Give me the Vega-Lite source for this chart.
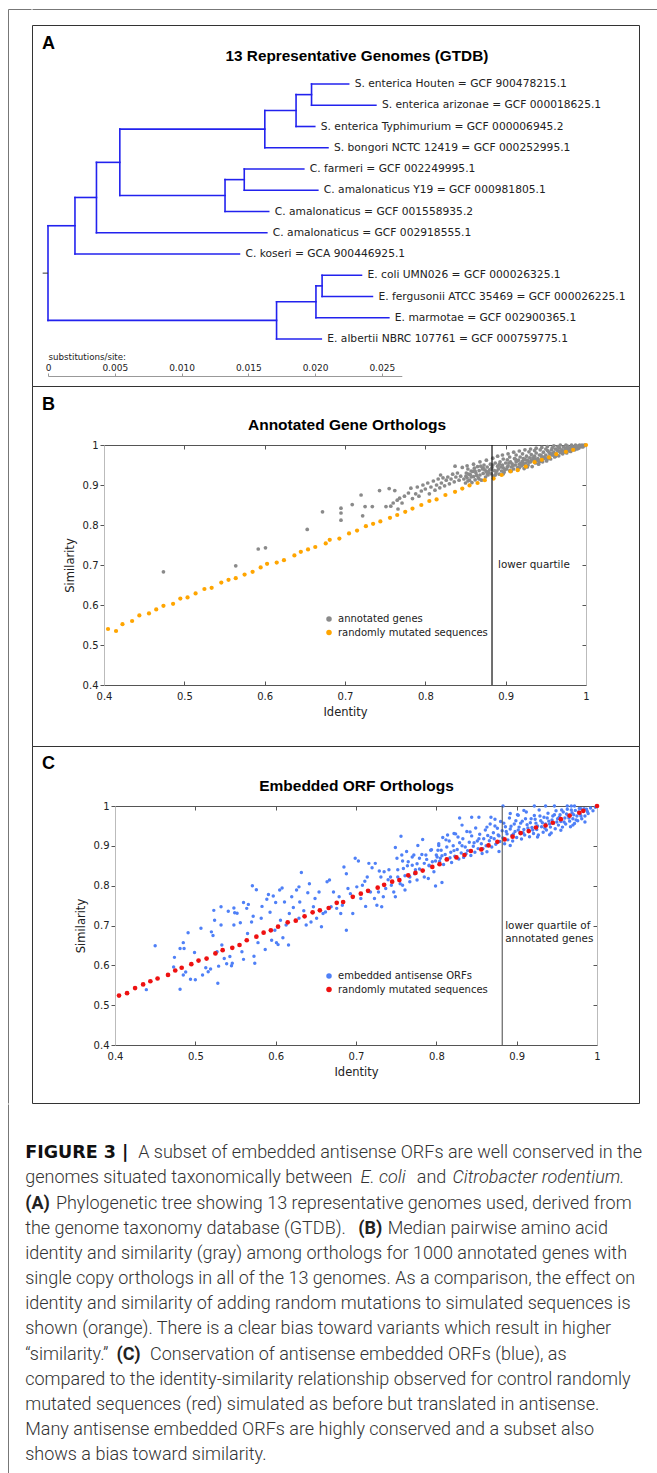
{
"$schema": "https://vega.github.io/schema/vega-lite/v6.json",
"padding": {"left": 8, "top": 9, "right": 0, "bottom": 0},
"background": "white",
"spacing": 0,
"resolve": {"scale": {"color": "independent"}},
"datasets": {
"tree": [
{"dist0":0,"dist1":0.00202,"order0":7.67,"order1":7.67},
{"dist0":0,"dist1":0.01712,"order0":12.125,"order1":12.125},
{"dist0":0.00202,"dist1":0.00363,"order0":6.34,"order1":6.34},
{"dist0":0.00202,"dist1":0.01434,"order0":9,"order1":9},
{"dist0":0.00363,"dist1":0.00538,"order0":4.6875,"order1":4.6875},
{"dist0":0.00363,"dist1":0.01639,"order0":8,"order1":8},
{"dist0":0.00538,"dist1":0.01624,"order0":3.125,"order1":3.125},
{"dist0":0.00538,"dist1":0.01326,"order0":6.25,"order1":6.25},
{"dist0":0.01624,"dist1":0.01858,"order0":2.25,"order1":2.25},
{"dist0":0.01624,"dist1":0.02097,"order0":4,"order1":4},
{"dist0":0.01858,"dist1":0.01974,"order0":1.5,"order1":1.5},
{"dist0":0.01858,"dist1":0.01998,"order0":3,"order1":3},
{"dist0":0.01974,"dist1":0.02252,"order0":1,"order1":1},
{"dist0":0.01974,"dist1":0.02456,"order0":2,"order1":2},
{"dist0":0.01326,"dist1":0.0147,"order0":5.5,"order1":5.5},
{"dist0":0.01326,"dist1":0.01653,"order0":7,"order1":7},
{"dist0":0.0147,"dist1":0.01916,"order0":5,"order1":5},
{"dist0":0.0147,"dist1":0.02021,"order0":6,"order1":6},
{"dist0":0.01712,"dist1":0.02007,"order0":11.25,"order1":11.25},
{"dist0":0.01712,"dist1":0.02047,"order0":13,"order1":13},
{"dist0":0.02007,"dist1":0.02053,"order0":10.5,"order1":10.5},
{"dist0":0.02007,"dist1":0.02553,"order0":12,"order1":12},
{"dist0":0.02053,"dist1":0.02348,"order0":10,"order1":10},
{"dist0":0.02053,"dist1":0.0243,"order0":11,"order1":11},
{"dist0":0,"dist1":0,"order0":7.67,"order1":12.125},
{"dist0":0.00202,"dist1":0.00202,"order0":6.34,"order1":9},
{"dist0":0.00363,"dist1":0.00363,"order0":4.6875,"order1":8},
{"dist0":0.00538,"dist1":0.00538,"order0":3.125,"order1":6.25},
{"dist0":0.01624,"dist1":0.01624,"order0":2.25,"order1":4},
{"dist0":0.01858,"dist1":0.01858,"order0":1.5,"order1":3},
{"dist0":0.01974,"dist1":0.01974,"order0":1,"order1":2},
{"dist0":0.01326,"dist1":0.01326,"order0":5.5,"order1":7},
{"dist0":0.0147,"dist1":0.0147,"order0":5,"order1":6},
{"dist0":0.01712,"dist1":0.01712,"order0":11.25,"order1":13},
{"dist0":0.02007,"dist1":0.02007,"order0":10.5,"order1":12},
{"dist0":0.02053,"dist1":0.02053,"order0":10,"order1":11}
],
"leaves": [
{"name":"S. enterica Houten = GCF 900478215.1","dist":0.02252,"order":1},
{"name":"S. enterica arizonae = GCF 000018625.1","dist":0.02456,"order":2},
{"name":"S. enterica Typhimurium = GCF 000006945.2","dist":0.01998,"order":3},
{"name":"S. bongori NCTC 12419 = GCF 000252995.1","dist":0.02097,"order":4},
{"name":"C. farmeri = GCF 002249995.1","dist":0.01916,"order":5},
{"name":"C. amalonaticus Y19 = GCF 000981805.1","dist":0.02021,"order":6},
{"name":"C. amalonaticus = GCF 001558935.2","dist":0.01653,"order":7},
{"name":"C. amalonaticus = GCF 002918555.1","dist":0.01639,"order":8},
{"name":"C. koseri = GCA 900446925.1","dist":0.01434,"order":9},
{"name":"E. coli UMN026 = GCF 000026325.1","dist":0.02348,"order":10},
{"name":"E. fergusonii ATCC 35469 = GCF 000026225.1","dist":0.0243,"order":11},
{"name":"E. marmotae = GCF 002900365.1","dist":0.02553,"order":12},
{"name":"E. albertii NBRC 107761 = GCF 000759775.1","dist":0.02047,"order":13}
],
"mutatedB": [
{"identity":0.405,"similarity":0.54},{"identity":0.415,"similarity":0.535},{"identity":0.423,"similarity":0.552},{"identity":0.435,"similarity":0.56},{"identity":0.444,"similarity":0.574},{"identity":0.456,"similarity":0.579},{"identity":0.465,"similarity":0.589},{"identity":0.474,"similarity":0.598},{"identity":0.486,"similarity":0.603},{"identity":0.495,"similarity":0.616},{"identity":0.504,"similarity":0.619},{"identity":0.514,"similarity":0.629},{"identity":0.525,"similarity":0.64},{"identity":0.534,"similarity":0.643},{"identity":0.546,"similarity":0.656},{"identity":0.555,"similarity":0.663},{"identity":0.564,"similarity":0.667},{"identity":0.575,"similarity":0.676},{"identity":0.585,"similarity":0.683},{"identity":0.595,"similarity":0.694},{"identity":0.603,"similarity":0.703},{"identity":0.615,"similarity":0.706},{"identity":0.624,"similarity":0.712},{"identity":0.637,"similarity":0.724},{"identity":0.645,"similarity":0.733},{"identity":0.654,"similarity":0.739},{"identity":0.663,"similarity":0.745},{"identity":0.676,"similarity":0.754},{"identity":0.681,"similarity":0.763},{"identity":0.693,"similarity":0.766},{"identity":0.705,"similarity":0.779},{"identity":0.715,"similarity":0.786},{"identity":0.726,"similarity":0.797},{"identity":0.735,"similarity":0.803},{"identity":0.744,"similarity":0.809},{"identity":0.756,"similarity":0.818},{"identity":0.765,"similarity":0.825},{"identity":0.775,"similarity":0.833},{"identity":0.784,"similarity":0.841},{"identity":0.795,"similarity":0.85},{"identity":0.805,"similarity":0.86},{"identity":0.814,"similarity":0.864},{"identity":0.825,"similarity":0.875},{"identity":0.837,"similarity":0.883},{"identity":0.846,"similarity":0.891},{"identity":0.855,"similarity":0.899},{"identity":0.865,"similarity":0.905},{"identity":0.874,"similarity":0.912},{"identity":0.885,"similarity":0.916},{"identity":0.895,"similarity":0.925},{"identity":0.906,"similarity":0.934},{"identity":0.915,"similarity":0.937},{"identity":0.925,"similarity":0.946},{"identity":0.936,"similarity":0.957},{"identity":0.945,"similarity":0.963},{"identity":0.954,"similarity":0.969},{"identity":0.963,"similarity":0.977},{"identity":0.975,"similarity":0.983},{"identity":0.984,"similarity":0.988},{"identity":1,"similarity":1}
],
"annotated": [
{"identity":0.474,"similarity":0.683},{"identity":0.564,"similarity":0.698},{"identity":0.592,"similarity":0.74},{"identity":0.601,"similarity":0.743},{"identity":0.653,"similarity":0.789},{"identity":0.672,"similarity":0.833},{"identity":0.695,"similarity":0.842},{"identity":0.695,"similarity":0.83},{"identity":0.695,"similarity":0.812},{"identity":0.709,"similarity":0.851},{"identity":0.72,"similarity":0.875},{"identity":0.722,"similarity":0.823},{"identity":0.725,"similarity":0.846},{"identity":0.734,"similarity":0.846},{"identity":0.743,"similarity":0.886},{"identity":0.755,"similarity":0.891},{"identity":0.762,"similarity":0.886},{"identity":0.751,"similarity":0.846},{"identity":0.757,"similarity":0.847},{"identity":0.76,"similarity":0.855},{"identity":0.765,"similarity":0.862},{"identity":0.768,"similarity":0.867},{"identity":0.766,"similarity":0.84},{"identity":0.771,"similarity":0.855},{"identity":0.774,"similarity":0.872},
{"identity":0.779,"similarity":0.88},{"identity":0.782,"similarity":0.892},{"identity":0.784,"similarity":0.866},{"identity":0.788,"similarity":0.878},{"identity":0.79,"similarity":0.895},{"identity":0.792,"similarity":0.872},{"identity":0.795,"similarity":0.885},{"identity":0.797,"similarity":0.9},{"identity":0.8,"similarity":0.89},{"identity":0.803,"similarity":0.905},{"identity":0.805,"similarity":0.878},{"identity":0.807,"similarity":0.895},{"identity":0.81,"similarity":0.91},{"identity":0.812,"similarity":0.887},{"identity":0.814,"similarity":0.9},{"identity":0.816,"similarity":0.915},{"identity":0.818,"similarity":0.893},{"identity":0.819,"similarity":0.925},{"identity":0.82,"similarity":0.905},{"identity":0.822,"similarity":0.918},{"identity":0.824,"similarity":0.898},{"identity":0.826,"similarity":0.912},{"identity":0.828,"similarity":0.92},{"identity":0.83,"similarity":0.903},{"identity":0.832,"similarity":0.915},{"identity":0.834,"similarity":0.927},{"identity":0.836,"similarity":0.908},{"identity":0.837,"similarity":0.947},{"identity":0.838,"similarity":0.92},{"identity":0.84,"similarity":0.93},{"identity":0.842,"similarity":0.912},{"identity":0.844,"similarity":0.922},{"identity":0.846,"similarity":0.944},{"identity":0.848,"similarity":0.915},
{"identity":0.85,"similarity":0.905},{"identity":0.851,"similarity":0.93},{"identity":0.852,"similarity":0.918},{"identity":0.853,"similarity":0.94},{"identity":0.855,"similarity":0.912},{"identity":0.856,"similarity":0.926},{"identity":0.857,"similarity":0.935},{"identity":0.858,"similarity":0.906},{"identity":0.86,"similarity":0.921},{"identity":0.861,"similarity":0.942},{"identity":0.862,"similarity":0.913},{"identity":0.863,"similarity":0.93},{"identity":0.865,"similarity":0.946},{"identity":0.866,"similarity":0.918},{"identity":0.867,"similarity":0.936},{"identity":0.868,"similarity":0.925},{"identity":0.87,"similarity":0.912},{"identity":0.871,"similarity":0.94},{"identity":0.872,"similarity":0.929},{"identity":0.873,"similarity":0.95},{"identity":0.875,"similarity":0.92},{"identity":0.876,"similarity":0.934},{"identity":0.877,"similarity":0.945},{"identity":0.878,"similarity":0.925},{"identity":0.88,"similarity":0.938},{"identity":0.881,"similarity":0.952},{"identity":0.882,"similarity":0.928},{"identity":0.883,"similarity":0.944},{"identity":0.885,"similarity":0.922},{"identity":0.886,"similarity":0.936},{"identity":0.887,"similarity":0.955},{"identity":0.888,"similarity":0.93},{"identity":0.89,"similarity":0.947},{"identity":0.891,"similarity":0.94},{"identity":0.892,"similarity":0.927},{"identity":0.893,"similarity":0.958},{"identity":0.895,"similarity":0.935},{"identity":0.896,"similarity":0.95},{"identity":0.897,"similarity":0.943},{"identity":0.898,"similarity":0.932},{"identity":0.9,"similarity":0.955},{"identity":0.901,"similarity":0.94},{"identity":0.902,"similarity":0.963},{"identity":0.903,"similarity":0.948},{"identity":0.905,"similarity":0.936},{"identity":0.906,"similarity":0.958},{"identity":0.907,"similarity":0.945},{"identity":0.908,"similarity":0.953},{"identity":0.91,"similarity":0.94},{"identity":0.911,"similarity":0.966},{"identity":0.912,"similarity":0.95},{"identity":0.913,"similarity":0.958},{"identity":0.915,"similarity":0.944},{"identity":0.916,"similarity":0.962},{"identity":0.917,"similarity":0.952},{"identity":0.918,"similarity":0.97},{"identity":0.92,"similarity":0.948},{"identity":0.921,"similarity":0.959},{"identity":0.922,"similarity":0.966},{"identity":0.923,"similarity":0.941},{"identity":0.925,"similarity":0.955},{"identity":0.926,"similarity":0.972},{"identity":0.927,"similarity":0.962},{"identity":0.928,"similarity":0.95},{"identity":0.93,"similarity":0.968},{"identity":0.931,"similarity":0.958},{"identity":0.932,"similarity":0.976},{"identity":0.933,"similarity":0.946},{"identity":0.935,"similarity":0.963},{"identity":0.936,"similarity":0.972},{"identity":0.937,"similarity":0.955},{"identity":0.938,"similarity":0.98},{"identity":0.94,"similarity":0.966},{"identity":0.941,"similarity":0.952},{"identity":0.942,"similarity":0.975},{"identity":0.943,"similarity":0.962},{"identity":0.945,"similarity":0.97},{"identity":0.946,"similarity":0.958},{"identity":0.947,"similarity":0.982},{"identity":0.948,"similarity":0.966},{"identity":0.95,"similarity":0.975},{"identity":0.951,"similarity":0.96},{"identity":0.952,"similarity":0.986},{"identity":0.953,"similarity":0.97},{"identity":0.955,"similarity":0.978},{"identity":0.956,"similarity":0.965},{"identity":0.957,"similarity":0.988},{"identity":0.958,"similarity":0.975},{"identity":0.96,"similarity":0.982},{"identity":0.961,"similarity":0.97},{"identity":0.962,"similarity":0.99},{"identity":0.963,"similarity":0.977},{"identity":0.965,"similarity":0.985},{"identity":0.966,"similarity":0.973},{"identity":0.967,"similarity":0.993},{"identity":0.968,"similarity":0.981},{"identity":0.97,"similarity":0.988},{"identity":0.971,"similarity":0.978},{"identity":0.972,"similarity":0.995},{"identity":0.973,"similarity":0.984},{"identity":0.975,"similarity":0.991},{"identity":0.976,"similarity":0.98},{"identity":0.977,"similarity":0.997},{"identity":0.978,"similarity":0.987},{"identity":0.98,"similarity":0.993},{"identity":0.981,"similarity":0.984},{"identity":0.982,"similarity":0.998},{"identity":0.983,"similarity":0.99},{"identity":0.985,"similarity":0.995},{"identity":0.986,"similarity":0.988},{"identity":0.987,"similarity":1},{"identity":0.988,"similarity":0.993},{"identity":0.99,"similarity":0.997},{"identity":0.991,"similarity":0.992},{"identity":0.992,"similarity":1},{"identity":0.994,"similarity":0.996},{"identity":0.995,"similarity":1},{"identity":0.997,"similarity":0.998},{"identity":0.998,"similarity":1},{"identity":0.999,"similarity":0.999},
{"identity":0.8505,"similarity":0.922},{"identity":0.854,"similarity":0.927},{"identity":0.859,"similarity":0.934},{"identity":0.864,"similarity":0.924},{"identity":0.869,"similarity":0.947},{"identity":0.874,"similarity":0.938},{"identity":0.879,"similarity":0.931},{"identity":0.884,"similarity":0.95},{"identity":0.889,"similarity":0.935},{"identity":0.894,"similarity":0.945},{"identity":0.899,"similarity":0.938},{"identity":0.904,"similarity":0.955},{"identity":0.909,"similarity":0.948},{"identity":0.914,"similarity":0.96},{"identity":0.919,"similarity":0.955},{"identity":0.924,"similarity":0.964},{"identity":0.929,"similarity":0.957},{"identity":0.934,"similarity":0.968},{"identity":0.939,"similarity":0.96},{"identity":0.944,"similarity":0.975},{"identity":0.949,"similarity":0.968},{"identity":0.954,"similarity":0.982},{"identity":0.959,"similarity":0.975},{"identity":0.964,"similarity":0.988},{"identity":0.969,"similarity":0.983},{"identity":0.974,"similarity":0.99},{"identity":0.979,"similarity":0.985},{"identity":0.984,"similarity":0.992},{"identity":0.989,"similarity":0.99},{"identity":0.993,"similarity":0.998},
{"identity":0.853,"similarity":0.91},{"identity":0.857,"similarity":0.92},{"identity":0.862,"similarity":0.935},{"identity":0.867,"similarity":0.915},{"identity":0.872,"similarity":0.943},{"identity":0.877,"similarity":0.928},{"identity":0.882,"similarity":0.94},{"identity":0.887,"similarity":0.925},{"identity":0.892,"similarity":0.952},{"identity":0.897,"similarity":0.928},{"identity":0.902,"similarity":0.945},{"identity":0.907,"similarity":0.935},{"identity":0.912,"similarity":0.965},{"identity":0.917,"similarity":0.943},{"identity":0.922,"similarity":0.952},{"identity":0.927,"similarity":0.945},{"identity":0.932,"similarity":0.962},{"identity":0.937,"similarity":0.965},{"identity":0.942,"similarity":0.958},{"identity":0.947,"similarity":0.97},{"identity":0.952,"similarity":0.965},{"identity":0.957,"similarity":0.978},{"identity":0.962,"similarity":0.972},{"identity":0.967,"similarity":0.985},{"identity":0.972,"similarity":0.982},{"identity":0.977,"similarity":0.99},{"identity":0.982,"similarity":0.988},{"identity":0.987,"similarity":0.996},{"identity":0.991,"similarity":0.996},{"identity":0.996,"similarity":0.995},
{"identity":0.852,"similarity":0.948},{"identity":0.86,"similarity":0.952},{"identity":0.868,"similarity":0.958},{"identity":0.876,"similarity":0.962},{"identity":0.884,"similarity":0.967},{"identity":0.89,"similarity":0.972},{"identity":0.896,"similarity":0.975},{"identity":0.903,"similarity":0.978},{"identity":0.91,"similarity":0.982},{"identity":0.917,"similarity":0.985},{"identity":0.924,"similarity":0.988},{"identity":0.931,"similarity":0.99},{"identity":0.938,"similarity":0.992},{"identity":0.945,"similarity":0.994},{"identity":0.952,"similarity":0.996},{"identity":0.96,"similarity":0.998},{"identity":0.968,"similarity":1},{"identity":0.975,"similarity":1},{"identity":0.982,"similarity":1},{"identity":0.897,"similarity":0.965},{"identity":0.905,"similarity":0.97},{"identity":0.913,"similarity":0.975},{"identity":0.921,"similarity":0.978},{"identity":0.929,"similarity":0.983},{"identity":0.936,"similarity":0.986},{"identity":0.943,"similarity":0.988},{"identity":0.95,"similarity":0.99},{"identity":0.958,"similarity":0.993},{"identity":0.965,"similarity":0.996}
],
"mutatedC": [
{"identity":0.405,"similarity":0.524},{"identity":0.415,"similarity":0.53},{"identity":0.425,"similarity":0.543},{"identity":0.435,"similarity":0.552},{"identity":0.444,"similarity":0.56},{"identity":0.453,"similarity":0.567},{"identity":0.466,"similarity":0.576},{"identity":0.475,"similarity":0.587},{"identity":0.483,"similarity":0.594},{"identity":0.495,"similarity":0.603},{"identity":0.504,"similarity":0.612},{"identity":0.514,"similarity":0.617},{"identity":0.525,"similarity":0.63},{"identity":0.534,"similarity":0.638},{"identity":0.546,"similarity":0.644},{"identity":0.555,"similarity":0.651},{"identity":0.564,"similarity":0.663},{"identity":0.576,"similarity":0.672},{"identity":0.585,"similarity":0.682},{"identity":0.594,"similarity":0.688},{"identity":0.603,"similarity":0.697},{"identity":0.615,"similarity":0.708},{"identity":0.625,"similarity":0.712},{"identity":0.636,"similarity":0.723},{"identity":0.646,"similarity":0.733},{"identity":0.655,"similarity":0.738},{"identity":0.666,"similarity":0.744},{"identity":0.676,"similarity":0.757},{"identity":0.684,"similarity":0.759},{"identity":0.696,"similarity":0.772},{"identity":0.706,"similarity":0.78},{"identity":0.715,"similarity":0.787},{"identity":0.727,"similarity":0.795},{"identity":0.735,"similarity":0.802},{"identity":0.745,"similarity":0.81},{"identity":0.754,"similarity":0.814},{"identity":0.765,"similarity":0.826},{"identity":0.774,"similarity":0.832},{"identity":0.783,"similarity":0.838},{"identity":0.795,"similarity":0.847},{"identity":0.804,"similarity":0.854},{"identity":0.813,"similarity":0.866},{"identity":0.825,"similarity":0.871},{"identity":0.835,"similarity":0.877},{"identity":0.843,"similarity":0.887},{"identity":0.856,"similarity":0.891},{"identity":0.865,"similarity":0.901},{"identity":0.876,"similarity":0.91},{"identity":0.885,"similarity":0.916},{"identity":0.895,"similarity":0.923},{"identity":0.905,"similarity":0.932},{"identity":0.915,"similarity":0.937},{"identity":0.924,"similarity":0.946},{"identity":0.936,"similarity":0.951},{"identity":0.945,"similarity":0.958},{"identity":0.955,"similarity":0.967},{"identity":0.966,"similarity":0.976},{"identity":0.978,"similarity":0.983},{"identity":0.983,"similarity":0.988},{"identity":1,"similarity":1}
],
"orfs": [
{"identity":0.45,"similarity":0.649},{"identity":0.439,"similarity":0.539},{"identity":0.474,"similarity":0.62},{"identity":0.473,"similarity":0.596},{"identity":0.481,"similarity":0.642},{"identity":0.485,"similarity":0.657},{"identity":0.486,"similarity":0.642},{"identity":0.481,"similarity":0.54},{"identity":0.485,"similarity":0.576},{"identity":0.488,"similarity":0.583},{"identity":0.491,"similarity":0.682},{"identity":0.494,"similarity":0.565},{"identity":0.5,"similarity":0.564},{"identity":0.499,"similarity":0.632},{"identity":0.507,"similarity":0.693},{"identity":0.509,"similarity":0.576},{"identity":0.513,"similarity":0.594},{"identity":0.516,"similarity":0.584},{"identity":0.519,"similarity":0.591},{"identity":0.52,"similarity":0.684},{"identity":0.522,"similarity":0.675},{"identity":0.523,"similarity":0.738},{"identity":0.524,"similarity":0.713},{"identity":0.527,"similarity":0.634},{"identity":0.529,"similarity":0.598},{"identity":0.528,"similarity":0.555},{"identity":0.532,"similarity":0.747},{"identity":0.532,"similarity":0.701},{"identity":0.533,"similarity":0.651},{"identity":0.536,"similarity":0.617},{"identity":0.539,"similarity":0.604},{"identity":0.541,"similarity":0.736},{"identity":0.543,"similarity":0.622},{"identity":0.545,"similarity":0.599},{"identity":0.546,"similarity":0.605},{"identity":0.548,"similarity":0.744},{"identity":0.548,"similarity":0.701},{"identity":0.549,"similarity":0.732},{"identity":0.552,"similarity":0.731},{"identity":0.556,"similarity":0.707},{"identity":0.558,"similarity":0.634},{"identity":0.56,"similarity":0.615},{"identity":0.56,"similarity":0.758},{"identity":0.564,"similarity":0.743},{"identity":0.565,"similarity":0.68},{"identity":0.566,"similarity":0.753},{"identity":0.57,"similarity":0.709},{"identity":0.571,"similarity":0.8},{"identity":0.572,"similarity":0.723},{"identity":0.573,"similarity":0.623},{"identity":0.574,"similarity":0.605},{"identity":0.576,"similarity":0.79},{"identity":0.578,"similarity":0.657},{"identity":0.582,"similarity":0.718},{"identity":0.583,"similarity":0.748},{"identity":0.587,"similarity":0.64},{"identity":0.589,"similarity":0.766},{"identity":0.591,"similarity":0.778},{"identity":0.593,"similarity":0.733},{"identity":0.595,"similarity":0.663},{"identity":0.597,"similarity":0.774},{"identity":0.599,"similarity":0.688},{"identity":0.6,"similarity":0.758},{"identity":0.601,"similarity":0.657},{"identity":0.603,"similarity":0.652},{"identity":0.605,"similarity":0.789},{"identity":0.606,"similarity":0.713},{"identity":0.608,"similarity":0.794},{"identity":0.609,"similarity":0.669},{"identity":0.611,"similarity":0.759},{"identity":0.613,"similarity":0.701},{"identity":0.616,"similarity":0.651},{"identity":0.617,"similarity":0.73},{"identity":0.62,"similarity":0.772},{"identity":0.622,"similarity":0.745},{"identity":0.626,"similarity":0.789},{"identity":0.629,"similarity":0.797},{"identity":0.629,"similarity":0.718},{"identity":0.63,"similarity":0.759},{"identity":0.632,"similarity":0.833},{"identity":0.635,"similarity":0.737},{"identity":0.638,"similarity":0.701},{"identity":0.64,"similarity":0.782},{"identity":0.642,"similarity":0.805},{"identity":0.644,"similarity":0.709},{"identity":0.647,"similarity":0.747},{"identity":0.649,"similarity":0.768},{"identity":0.651,"similarity":0.718},{"identity":0.654,"similarity":0.784},{"identity":0.657,"similarity":0.697},{"identity":0.659,"similarity":0.73},{"identity":0.662,"similarity":0.734},{"identity":0.664,"similarity":0.81},{"identity":0.667,"similarity":0.814},{"identity":0.669,"similarity":0.747},{"identity":0.672,"similarity":0.784},{"identity":0.676,"similarity":0.743},{"identity":0.679,"similarity":0.772},{"identity":0.681,"similarity":0.73},{"identity":0.683,"similarity":0.751},{"identity":0.685,"similarity":0.847},{"identity":0.688,"similarity":0.688},{"identity":0.688,"similarity":0.83},{"identity":0.69,"similarity":0.793},{"identity":0.693,"similarity":0.78},{"identity":0.696,"similarity":0.73},{"identity":0.699,"similarity":0.869},{"identity":0.701,"similarity":0.797},{"identity":0.703,"similarity":0.862},{"identity":0.706,"similarity":0.768},{"identity":0.708,"similarity":0.801},{"identity":0.711,"similarity":0.811},{"identity":0.712,"similarity":0.748},{"identity":0.714,"similarity":0.822},{"identity":0.716,"similarity":0.856},{"identity":0.718,"similarity":0.784},{"identity":0.72,"similarity":0.845},{"identity":0.723,"similarity":0.768},{"identity":0.724,"similarity":0.856},{"identity":0.726,"similarity":0.751},{"identity":0.728,"similarity":0.784},{"identity":0.729,"similarity":0.837},{"identity":0.731,"similarity":0.822},{"identity":0.732,"similarity":0.747},{"identity":0.734,"similarity":0.772},{"identity":0.735,"similarity":0.835},{"identity":0.737,"similarity":0.793},{"identity":0.74,"similarity":0.815},{"identity":0.741,"similarity":0.84},{"identity":0.743,"similarity":0.822},{"identity":0.744,"similarity":0.801},{"identity":0.747,"similarity":0.784},{"identity":0.749,"similarity":0.772},{"identity":0.749,"similarity":0.896},{"identity":0.751,"similarity":0.869},{"identity":0.752,"similarity":0.822},{"identity":0.756,"similarity":0.924},{"identity":0.757,"similarity":0.877},{"identity":0.758,"similarity":0.801},{"identity":0.759,"similarity":0.843},{"identity":0.761,"similarity":0.789},{"identity":0.763,"similarity":0.886},{"identity":0.765,"similarity":0.86},{"identity":0.767,"similarity":0.822},{"identity":0.77,"similarity":0.851},{"identity":0.772,"similarity":0.877},{"identity":0.774,"similarity":0.84},{"identity":0.776,"similarity":0.814},{"identity":0.777,"similarity":0.901},{"identity":0.779,"similarity":0.869},{"identity":0.783,"similarity":0.916},{"identity":0.785,"similarity":0.856},{"identity":0.787,"similarity":0.877},{"identity":0.79,"similarity":0.818},{"identity":0.791,"similarity":0.851},{"identity":0.793,"similarity":0.889},{"identity":0.795,"similarity":0.86},{"identity":0.799,"similarity":0.799},{"identity":0.8,"similarity":0.877},{"identity":0.803,"similarity":0.901},{"identity":0.805,"similarity":0.869},{"identity":0.807,"similarity":0.808},
{"identity":0.752,"similarity":0.84},{"identity":0.755,"similarity":0.805},{"identity":0.758,"similarity":0.862},{"identity":0.761,"similarity":0.825},{"identity":0.764,"similarity":0.85},{"identity":0.767,"similarity":0.81},{"identity":0.77,"similarity":0.872},{"identity":0.773,"similarity":0.83},{"identity":0.776,"similarity":0.855},{"identity":0.779,"similarity":0.842},{"identity":0.782,"similarity":0.878},{"identity":0.785,"similarity":0.822},{"identity":0.788,"similarity":0.866},{"identity":0.791,"similarity":0.85},{"identity":0.794,"similarity":0.89},{"identity":0.797,"similarity":0.835},{"identity":0.799,"similarity":0.862},
{"identity":0.801,"similarity":0.872},{"identity":0.803,"similarity":0.905},{"identity":0.804,"similarity":0.861},{"identity":0.806,"similarity":0.889},{"identity":0.808,"similarity":0.921},{"identity":0.809,"similarity":0.853},{"identity":0.811,"similarity":0.878},{"identity":0.813,"similarity":0.897},{"identity":0.814,"similarity":0.866},{"identity":0.816,"similarity":0.912},{"identity":0.818,"similarity":0.884},{"identity":0.819,"similarity":0.858},{"identity":0.821,"similarity":0.9},{"identity":0.823,"similarity":0.874},{"identity":0.824,"similarity":0.93},{"identity":0.826,"similarity":0.891},{"identity":0.828,"similarity":0.867},{"identity":0.829,"similarity":0.908},{"identity":0.831,"similarity":0.882},{"identity":0.833,"similarity":0.918},{"identity":0.834,"similarity":0.871},{"identity":0.836,"similarity":0.897},{"identity":0.838,"similarity":0.936},{"identity":0.839,"similarity":0.888},{"identity":0.841,"similarity":0.909},{"identity":0.843,"similarity":0.876},{"identity":0.844,"similarity":0.925},{"identity":0.846,"similarity":0.899},{"identity":0.848,"similarity":0.884},{"identity":0.849,"similarity":0.945},{"identity":0.851,"similarity":0.912},{"identity":0.852,"similarity":0.893},{"identity":0.854,"similarity":0.929},{"identity":0.856,"similarity":0.905},{"identity":0.857,"similarity":0.881},{"identity":0.859,"similarity":0.918},{"identity":0.861,"similarity":0.94},{"identity":0.862,"similarity":0.9},{"identity":0.864,"similarity":0.926},{"identity":0.866,"similarity":0.913},{"identity":0.867,"similarity":0.955},{"identity":0.869,"similarity":0.897},{"identity":0.871,"similarity":0.933},{"identity":0.872,"similarity":0.918},{"identity":0.874,"similarity":0.904},{"identity":0.876,"similarity":0.944},{"identity":0.877,"similarity":0.927},{"identity":0.879,"similarity":0.911},{"identity":0.88,"similarity":0.961},{"identity":0.882,"similarity":0.938},{"identity":0.883,"similarity":0.92},{"identity":0.885,"similarity":0.905},{"identity":0.886,"similarity":0.948},{"identity":0.888,"similarity":0.93},{"identity":0.889,"similarity":0.915},{"identity":0.891,"similarity":0.97},{"identity":0.892,"similarity":0.942},{"identity":0.894,"similarity":0.926},{"identity":0.895,"similarity":0.912},{"identity":0.897,"similarity":0.955},{"identity":0.898,"similarity":0.936},{"identity":0.9,"similarity":0.921},{"identity":0.901,"similarity":0.978},{"identity":0.903,"similarity":0.947},{"identity":0.904,"similarity":0.932},{"identity":0.906,"similarity":0.917},{"identity":0.907,"similarity":0.962},{"identity":0.909,"similarity":0.941},{"identity":0.91,"similarity":0.927},{"identity":0.912,"similarity":0.985},{"identity":0.913,"similarity":0.953},{"identity":0.915,"similarity":0.937},{"identity":0.916,"similarity":0.923},{"identity":0.918,"similarity":0.968},{"identity":0.919,"similarity":0.946},{"identity":0.921,"similarity":0.931},{"identity":0.922,"similarity":0.976},{"identity":0.924,"similarity":0.957},{"identity":0.925,"similarity":0.941},{"identity":0.927,"similarity":0.927},{"identity":0.928,"similarity":0.99},{"identity":0.93,"similarity":0.963},{"identity":0.931,"similarity":0.948},{"identity":0.933,"similarity":0.934},{"identity":0.934,"similarity":0.972},{"identity":0.936,"similarity":0.955},{"identity":0.937,"similarity":0.94},{"identity":0.939,"similarity":0.982},{"identity":0.94,"similarity":0.962},{"identity":0.942,"similarity":0.947},{"identity":0.943,"similarity":0.932},{"identity":0.945,"similarity":0.975},{"identity":0.946,"similarity":0.957},{"identity":0.948,"similarity":0.943},{"identity":0.949,"similarity":0.988},{"identity":0.951,"similarity":0.968},{"identity":0.952,"similarity":0.952},{"identity":0.954,"similarity":0.978},{"identity":0.955,"similarity":0.961},{"identity":0.957,"similarity":0.947},{"identity":0.958,"similarity":0.985},{"identity":0.96,"similarity":0.97},{"identity":0.961,"similarity":0.955},{"identity":0.963,"similarity":0.992},{"identity":0.964,"similarity":0.976},{"identity":0.966,"similarity":0.962},{"identity":0.967,"similarity":0.948},{"identity":0.969,"similarity":0.983},{"identity":0.97,"similarity":0.968},{"identity":0.972,"similarity":0.956},{"identity":0.973,"similarity":0.989},{"identity":0.975,"similarity":0.975},{"identity":0.976,"similarity":0.963},{"identity":0.978,"similarity":0.994},{"identity":0.979,"similarity":0.98},{"identity":0.981,"similarity":0.968},{"identity":0.983,"similarity":0.987},{"identity":0.985,"similarity":0.975},{"identity":0.987,"similarity":0.992},{"identity":0.989,"similarity":0.981},{"identity":0.992,"similarity":0.995},{"identity":0.995,"similarity":0.988},{"identity":0.998,"similarity":0.997},
{"identity":0.802,"similarity":0.889},{"identity":0.807,"similarity":0.875},{"identity":0.812,"similarity":0.915},{"identity":0.817,"similarity":0.87},{"identity":0.822,"similarity":0.888},{"identity":0.827,"similarity":0.922},{"identity":0.832,"similarity":0.9},{"identity":0.837,"similarity":0.88},{"identity":0.842,"similarity":0.935},{"identity":0.847,"similarity":0.908},{"identity":0.853,"similarity":0.918},{"identity":0.858,"similarity":0.893},{"identity":0.863,"similarity":0.947},{"identity":0.868,"similarity":0.921},{"identity":0.873,"similarity":0.95},{"identity":0.878,"similarity":0.925},{"identity":0.884,"similarity":0.957},{"identity":0.887,"similarity":0.936},{"identity":0.893,"similarity":0.949},{"identity":0.896,"similarity":0.93},{"identity":0.899,"similarity":0.963},{"identity":0.902,"similarity":0.94},{"identity":0.905,"similarity":0.957},{"identity":0.908,"similarity":0.933},{"identity":0.911,"similarity":0.968},{"identity":0.914,"similarity":0.945},{"identity":0.917,"similarity":0.958},{"identity":0.92,"similarity":0.94},{"identity":0.923,"similarity":0.967},{"identity":0.926,"similarity":0.95},{"identity":0.929,"similarity":0.975},{"identity":0.932,"similarity":0.958},{"identity":0.935,"similarity":0.945},{"identity":0.938,"similarity":0.97},{"identity":0.941,"similarity":0.955},{"identity":0.944,"similarity":0.965},{"identity":0.947,"similarity":0.978},{"identity":0.95,"similarity":0.96},{"identity":0.953,"similarity":0.972},{"identity":0.956,"similarity":0.99},{"identity":0.959,"similarity":0.96},{"identity":0.962,"similarity":0.98},{"identity":0.965,"similarity":0.97},{"identity":0.968,"similarity":0.99},{"identity":0.971,"similarity":0.978},{"identity":0.974,"similarity":0.965},{"identity":0.977,"similarity":0.985},{"identity":0.98,"similarity":0.975},{"identity":0.984,"similarity":0.993},{"identity":0.988,"similarity":0.986},
{"identity":0.814,"similarity":0.927},{"identity":0.822,"similarity":0.931},{"identity":0.829,"similarity":0.97},{"identity":0.832,"similarity":0.952},{"identity":0.844,"similarity":0.972},{"identity":0.853,"similarity":0.972},{"identity":0.868,"similarity":0.972},{"identity":0.873,"similarity":0.967},{"identity":0.883,"similarity":1},{"identity":0.892,"similarity":0.981},{"identity":0.902,"similarity":0.977},{"identity":0.909,"similarity":0.989},{"identity":0.922,"similarity":1},{"identity":0.936,"similarity":1},{"identity":0.947,"similarity":1},{"identity":0.963,"similarity":1},{"identity":0.968,"similarity":1},{"identity":0.972,"similarity":1},{"identity":0.98,"similarity":0.993},{"identity":0.926,"similarity":0.922},{"identity":0.941,"similarity":0.928},{"identity":0.955,"similarity":0.939},{"identity":0.97,"similarity":0.952},{"identity":0.985,"similarity":0.96},{"identity":0.892,"similarity":0.901},{"identity":0.878,"similarity":0.886},{"identity":0.863,"similarity":0.885}
]
},
"vconcat": [
{
"spacing": 0,
"resolve": {"scale": {"color": "independent"}},
"hconcat": [
{
"width": 23, "height": 1094,
"view": {"stroke": null},
"data": {"values": [{}]},
"mark": {"type": "point", "opacity": 0},
"encoding": {
"x": {"datum": 0.5, "type": "quantitative", "scale": {"domain": [0, 1]}, "axis": {"orient": "top", "ticks": false, "labels": false, "title": null, "domainColor": "#777", "grid": false}},
"y": {"datum": 0.5, "type": "quantitative", "scale": {"domain": [0, 1]}, "axis": {"orient": "left", "ticks": false, "labels": false, "title": null, "domainColor": "#777", "grid": false}}
}
},
{
"spacing": 0,
"bounds": "flush",
"resolve": {"scale": {"color": "independent"}},
"vconcat": [
{
"width": 626, "height": 16,
"view": {"stroke": null},
"data": {"values": [{}]},
"mark": {"type": "point", "opacity": 0},
"encoding": {
"x": {"datum": 0.5, "type": "quantitative", "scale": {"domain": [0, 1]}, "axis": {"orient": "top", "ticks": false, "labels": false, "title": null, "domainColor": "#777", "grid": false}}
}
},
{
"width": 607, "height": 361,
"view": {"stroke": "#333", "strokeWidth": 1},
"layer": [
{
"data": {"name": "tree"},
"mark": {"type": "rule", "color": "#2222ee", "strokeWidth": 1.6, "strokeCap": "square"},
"encoding": {
"x": {"field": "dist0", "type": "quantitative", "scale": {"domain": [0, 0.0265], "range": [16, 369.8], "nice": false, "zero": false},
"axis": {"orient": "top", "offset": -351, "values": [0, 0.005, 0.01, 0.015, 0.02, 0.025], "labelExpr": "datum.value === 0 ? '0' : format(datum.value, '.3f')", "tickSize": 3, "tickColor": "#999", "domainColor": "#999", "labelFont": "DejaVu Sans", "labelFontSize": 9, "labelColor": "#222", "labelPadding": 1, "labelOverlap": false, "labelFlush": false, "title": "substitutions/site:", "titleFont": "DejaVu Sans", "titleFontSize": 8.7, "titleFontWeight": "normal", "titleColor": "#222", "titleAnchor": "start", "titleAlign": "left", "titlePadding": 2, "grid": false}},
"x2": {"field": "dist1"},
"y": {"field": "order0", "type": "quantitative", "scale": {"domain": [1, 13], "range": [59, 314], "nice": false, "zero": false}, "axis": null},
"y2": {"field": "order1"}
}
},
{
"data": {"values": [{}]},
"mark": {"type": "point", "opacity": 0},
"encoding": {
"x": {"datum": 0.01, "type": "quantitative", "axis": {"orient": "bottom", "domain": false, "ticks": false, "labels": false, "title": null, "grid": false}},
"y": {"datum": 5, "type": "quantitative", "axis": null}
}
},
{
"data": {"values": [{}]},
"mark": {"type": "rule", "color": "#333", "strokeWidth": 1},
"encoding": {
"x": {"datum": -0.0004, "type": "quantitative", "axis": null},
"x2": {"datum": 0},
"y": {"datum": 9.9, "type": "quantitative", "axis": null}
}
},
{
"data": {"name": "leaves"},
"mark": {"type": "text", "align": "left", "baseline": "middle", "dx": 6, "font": "DejaVu Sans", "fontSize": 10.7, "color": "#222"},
"encoding": {
"x": {"field": "dist", "type": "quantitative", "axis": null},
"y": {"field": "order", "type": "quantitative", "axis": null},
"text": {"field": "name"}
}
},
{
"data": {"values": [{"label": "A"}]},
"mark": {"type": "text", "align": "left", "baseline": "middle", "font": "Liberation Sans", "fontSize": 18, "fontWeight": "bold", "color": "#000"},
"encoding": {
"x": {"datum": -0.00045, "type": "quantitative", "axis": null},
"y": {"datum": -0.897, "type": "quantitative", "axis": null},
"text": {"field": "label"}
}
},
{
"data": {"values": [{"label": "13 Representative Genomes (GTDB)"}]},
"mark": {"type": "text", "align": "center", "baseline": "middle", "font": "Liberation Sans", "fontSize": 15.3, "fontWeight": "bold", "color": "#000"},
"encoding": {
"x": {"datum": 0.02314, "type": "quantitative", "axis": null},
"y": {"datum": -0.327, "type": "quantitative", "axis": null},
"text": {"field": "label"}
}
}
]
},
{
"width": 607, "height": 360,
"view": {"stroke": "#333", "strokeWidth": 1},
"layer": [
{
"data": {"name": "annotated"},
"mark": {"type": "point", "filled": true, "size": 14, "opacity": 1},
"encoding": {
"x": {"field": "identity", "type": "quantitative", "scale": {"domain": [0.4, 1], "range": [72, 554], "nice": false, "zero": false},
"axis": {"orient": "bottom", "offset": -61, "values": [0.4, 0.5, 0.6, 0.7, 0.8, 0.9, 1], "format": "~g", "tickSize": -4, "tickColor": "#555", "domainColor": "#555", "labelFont": "DejaVu Sans", "labelFontSize": 10, "labelColor": "#222", "labelPadding": 10, "labelOverlap": false, "labelFlush": false, "title": "Identity", "titleFont": "DejaVu Sans", "titleFontSize": 11.5, "titleFontWeight": "normal", "titleColor": "#222", "titlePadding": 5, "grid": false}},
"y": {"field": "similarity", "type": "quantitative", "scale": {"domain": [0.4, 1], "range": [299, 59], "nice": false, "zero": false},
"axis": {"orient": "left", "offset": -72, "values": [0.4, 0.5, 0.6, 0.7, 0.8, 0.9, 1], "format": "~g", "tickSize": 4, "tickColor": "#555", "domainColor": "#bbb", "labelFont": "DejaVu Sans", "labelFontSize": 10, "labelColor": "#222", "labelPadding": 2, "labelOverlap": false, "labelFlush": false, "title": "Similarity", "titleFont": "DejaVu Sans", "titleFontSize": 11.5, "titleFontWeight": "normal", "titleColor": "#222", "titlePadding": 7, "grid": false}},
"color": {"datum": "annotated genes", "scale": {"domain": ["annotated genes", "randomly mutated sequences"], "range": ["#8a8a8a", "#ffa500"]},
"legend": {"orient": "none", "legendX": 292, "legendY": 228, "title": null, "symbolType": "circle", "symbolSize": 30, "labelFont": "DejaVu Sans", "labelFontSize": 10, "labelColor": "#222", "rowPadding": 3.5, "padding": 0, "labelOffset": 4}}
}
},
{
"data": {"name": "mutatedB"},
"mark": {"type": "point", "filled": true, "size": 18, "opacity": 1},
"encoding": {
"x": {"field": "identity", "type": "quantitative", "axis": null},
"y": {"field": "similarity", "type": "quantitative", "axis": null},
"color": {"datum": "randomly mutated sequences"}
}
},
{
"data": {"values": [{}]},
"mark": {"type": "rule", "color": "#111", "strokeWidth": 1.2},
"encoding": {
"x": {"datum": 0.883, "type": "quantitative", "axis": null},
"y": {"datum": 0.4, "type": "quantitative", "axis": null},
"y2": {"datum": 1}
}
},
{
"data": {"values": [{"label": "lower quartile"}]},
"mark": {"type": "text", "align": "left", "baseline": "middle", "dx": 6, "font": "DejaVu Sans", "fontSize": 10.4, "color": "#222"},
"encoding": {
"x": {"datum": 0.883, "type": "quantitative", "axis": null},
"y": {"datum": 0.7, "type": "quantitative", "axis": null},
"text": {"field": "label"}
}
},
{
"data": {"values": [{}]},
"mark": {"type": "point", "opacity": 0},
"encoding": {
"x": {"datum": 0.7, "type": "quantitative", "axis": {"orient": "top", "offset": -59, "values": [0.4, 0.5, 0.6, 0.7, 0.8, 0.9, 1], "labels": false, "tickSize": -4, "tickColor": "#555", "domainColor": "#555", "title": null, "grid": false}},
"y": {"datum": 0.7, "type": "quantitative", "axis": {"orient": "right", "offset": -53, "values": [0.4, 0.5, 0.6, 0.7, 0.8, 0.9, 1], "labels": false, "tickSize": -4, "tickColor": "#555", "domainColor": "#bbb", "title": null, "grid": false}}
}
},
{
"data": {"values": [{"label": "B"}]},
"mark": {"type": "text", "align": "left", "baseline": "middle", "font": "Liberation Sans", "fontSize": 18, "fontWeight": "bold", "color": "#000"},
"encoding": {
"x": {"datum": 0.3228, "type": "quantitative", "axis": null},
"y": {"datum": 1.1, "type": "quantitative", "axis": null},
"text": {"field": "label"}
}
},
{
"data": {"values": [{"label": "Annotated Gene Orthologs"}]},
"mark": {"type": "text", "align": "center", "baseline": "middle", "font": "Liberation Sans", "fontSize": 15.5, "fontWeight": "bold", "color": "#000"},
"encoding": {
"x": {"datum": 0.7025, "type": "quantitative", "axis": null},
"y": {"datum": 1.05, "type": "quantitative", "axis": null},
"text": {"field": "label"}
}
}
]
},
{
"width": 607, "height": 357,
"view": {"stroke": "#333", "strokeWidth": 1},
"layer": [
{
"data": {"name": "orfs"},
"mark": {"type": "point", "filled": true, "size": 12, "opacity": 1},
"encoding": {
"x": {"field": "identity", "type": "quantitative", "scale": {"domain": [0.4, 1], "range": [83, 565], "nice": false, "zero": false},
"axis": {"orient": "bottom", "offset": -58, "values": [0.4, 0.5, 0.6, 0.7, 0.8, 0.9, 1], "format": "~g", "tickSize": -4, "tickColor": "#555", "domainColor": "#555", "labelFont": "DejaVu Sans", "labelFontSize": 10, "labelColor": "#222", "labelPadding": 10, "labelOverlap": false, "labelFlush": false, "title": "Identity", "titleFont": "DejaVu Sans", "titleFontSize": 11.5, "titleFontWeight": "normal", "titleColor": "#222", "titlePadding": 5, "grid": false}},
"y": {"field": "similarity", "type": "quantitative", "scale": {"domain": [0.4, 1], "range": [299, 60], "nice": false, "zero": false},
"axis": {"orient": "left", "offset": -83, "values": [0.4, 0.5, 0.6, 0.7, 0.8, 0.9, 1], "format": "~g", "tickSize": 4, "tickColor": "#555", "domainColor": "#bbb", "labelFont": "DejaVu Sans", "labelFontSize": 10, "labelColor": "#222", "labelPadding": 2, "labelOverlap": false, "labelFlush": false, "title": "Similarity", "titleFont": "DejaVu Sans", "titleFontSize": 11.5, "titleFontWeight": "normal", "titleColor": "#222", "titlePadding": 7, "grid": false}},
"color": {"datum": "embedded antisense ORFs", "scale": {"domain": ["embedded antisense ORFs", "randomly mutated sequences"], "range": ["#4f80f7", "#ee1111"]},
"legend": {"orient": "none", "legendX": 292, "legendY": 225, "title": null, "symbolType": "circle", "symbolSize": 30, "labelFont": "DejaVu Sans", "labelFontSize": 10, "labelColor": "#222", "rowPadding": 3.5, "padding": 0, "labelOffset": 4}}
}
},
{
"data": {"name": "mutatedC"},
"mark": {"type": "point", "filled": true, "size": 22, "opacity": 1},
"encoding": {
"x": {"field": "identity", "type": "quantitative", "axis": null},
"y": {"field": "similarity", "type": "quantitative", "axis": null},
"color": {"datum": "randomly mutated sequences"}
}
},
{
"data": {"values": [{}]},
"mark": {"type": "rule", "color": "#444", "strokeWidth": 1},
"encoding": {
"x": {"datum": 0.882, "type": "quantitative", "axis": null},
"y": {"datum": 0.4, "type": "quantitative", "axis": null},
"y2": {"datum": 1}
}
},
{
"data": {"values": [{"label": "lower quartile of"}]},
"mark": {"type": "text", "align": "left", "baseline": "middle", "dx": 3, "font": "DejaVu Sans", "fontSize": 10.4, "color": "#222"},
"encoding": {
"x": {"datum": 0.882, "type": "quantitative", "axis": null},
"y": {"datum": 0.698, "type": "quantitative", "axis": null},
"text": {"field": "label"}
}
},
{
"data": {"values": [{"label": "annotated genes"}]},
"mark": {"type": "text", "align": "left", "baseline": "middle", "dx": 3, "font": "DejaVu Sans", "fontSize": 10.4, "color": "#222"},
"encoding": {
"x": {"datum": 0.882, "type": "quantitative", "axis": null},
"y": {"datum": 0.667, "type": "quantitative", "axis": null},
"text": {"field": "label"}
}
},
{
"data": {"values": [{}]},
"mark": {"type": "point", "opacity": 0},
"encoding": {
"x": {"datum": 0.7, "type": "quantitative", "axis": {"orient": "top", "offset": -60, "values": [0.4, 0.5, 0.6, 0.7, 0.8, 0.9, 1], "labels": false, "tickSize": -4, "tickColor": "#555", "domainColor": "#555", "title": null, "grid": false}},
"y": {"datum": 0.7, "type": "quantitative", "axis": {"orient": "right", "offset": -42, "values": [0.4, 0.5, 0.6, 0.7, 0.8, 0.9, 1], "labels": false, "tickSize": -4, "tickColor": "#555", "domainColor": "#bbb", "title": null, "grid": false}}
}
},
{
"data": {"values": [{"label": "C"}]},
"mark": {"type": "text", "align": "left", "baseline": "middle", "font": "Liberation Sans", "fontSize": 18, "fontWeight": "bold", "color": "#000"},
"encoding": {
"x": {"datum": 0.3091, "type": "quantitative", "axis": null},
"y": {"datum": 1.1046, "type": "quantitative", "axis": null},
"text": {"field": "label"}
}
},
{
"data": {"values": [{"label": "Embedded ORF Orthologs"}]},
"mark": {"type": "text", "align": "center", "baseline": "middle", "font": "Liberation Sans", "fontSize": 15.5, "fontWeight": "bold", "color": "#000"},
"encoding": {
"x": {"datum": 0.7006, "type": "quantitative", "axis": null},
"y": {"datum": 1.0508, "type": "quantitative", "axis": null},
"text": {"field": "label"}
}
}
]
}
]
}
]
},
{
"width": 649, "height": 370,
"view": {"stroke": null},
"layer": [
{
"data": {"values": [
{"line": 2, "text": "genomes situated taxonomically between"},
{"line": 4, "text": "the genome taxonomy database (GTDB)."},
{"line": 5, "text": "identity and similarity (gray) among orthologs for 1000 annotated genes with"},
{"line": 6, "text": "single copy orthologs in all of the 13 genomes. As a comparison, the effect on"},
{"line": 7, "text": "identity and similarity of adding random mutations to simulated sequences is"},
{"line": 8, "text": "shown (orange). There is a clear bias toward variants which result in higher"},
{"line": 9, "text": "“similarity.”"},
{"line": 10, "text": "compared to the identity-similarity relationship observed for control randomly"},
{"line": 11, "text": "mutated sequences (red) simulated as before but translated in antisense."},
{"line": 12, "text": "Many antisense embedded ORFs are highly conserved and a subset also"},
{"line": 13, "text": "shows a bias toward similarity."}
]},
"mark": {"type": "text", "align": "left", "baseline": "middle", "font": "Roboto", "fontWeight": 300, "fontSize": 18, "color": "#333"},
"encoding": {
"x": {"datum": 0, "type": "quantitative", "scale": {"domain": [-0.0272, 1], "nice": false, "zero": false}, "axis": null},
"y": {"field": "line", "type": "quantitative", "scale": {"domain": [-0.96, 13.75], "reverse": true, "nice": false, "zero": false},
"axis": {"orient": "left", "ticks": false, "labels": false, "title": null, "domainColor": "#777", "grid": false}},
"text": {"field": "text"}
}
},
{
"data": {"values": [{"line": 5}]},
"mark": {"type": "point", "opacity": 0},
"encoding": {
"x": {"datum": 0.5, "type": "quantitative", "axis": null},
"y": {"field": "line", "type": "quantitative", "axis": {"orient": "right", "domain": false, "ticks": false, "labels": false, "title": null, "grid": false}}
}
},
{
"data": {"values": [{"line": 1, "text": "FIGURE 3 |"}]},
"mark": {"type": "text", "align": "left", "baseline": "middle", "font": "DejaVu Sans", "fontWeight": "bold", "fontSize": 17.5, "color": "#111"},
"encoding": {
"x": {"datum": 0, "type": "quantitative", "axis": null},
"y": {"field": "line", "type": "quantitative", "axis": null},
"text": {"field": "text"}
}
},
{
"data": {"values": [{"line": 3, "text": "(A)"}]},
"mark": {"type": "text", "align": "left", "baseline": "middle", "font": "Roboto", "fontWeight": "bold", "fontSize": 18, "color": "#222"},
"encoding": {
"x": {"datum": 0, "type": "quantitative", "axis": null},
"y": {"field": "line", "type": "quantitative", "axis": null},
"text": {"field": "text"}
}
},
{
"data": {"values": [{"line": 1, "text": "A subset of embedded antisense ORFs are well conserved in the"}]},
"mark": {"type": "text", "align": "left", "baseline": "middle", "dx": 113, "font": "Roboto", "fontWeight": 300, "fontSize": 18, "color": "#333"},
"encoding": {
"x": {"datum": 0, "type": "quantitative", "axis": null},
"y": {"field": "line", "type": "quantitative", "axis": null},
"text": {"field": "text"}
}
},
{
"data": {"values": [{"line": 3, "text": "Phylogenetic tree showing 13 representative genomes used, derived from"}]},
"mark": {"type": "text", "align": "left", "baseline": "middle", "dx": 30.7, "font": "Roboto", "fontWeight": 300, "fontSize": 18, "color": "#333"},
"encoding": {
"x": {"datum": 0, "type": "quantitative", "axis": null},
"y": {"field": "line", "type": "quantitative", "axis": null},
"text": {"field": "text"}
}
},
{
"data": {"values": [{"line": 2, "text": "E. coli"}]},
"mark": {"type": "text", "align": "left", "baseline": "middle", "dx": 335.3, "font": "Roboto", "fontWeight": 300, "fontStyle": "italic", "fontSize": 18, "color": "#333"},
"encoding": {
"x": {"datum": 0, "type": "quantitative", "axis": null},
"y": {"field": "line", "type": "quantitative", "axis": null},
"text": {"field": "text"}
}
},
{
"data": {"values": [{"line": 2, "text": "and"}]},
"mark": {"type": "text", "align": "left", "baseline": "middle", "dx": 391.6, "font": "Roboto", "fontWeight": 300, "fontSize": 18, "color": "#333"},
"encoding": {
"x": {"datum": 0, "type": "quantitative", "axis": null},
"y": {"field": "line", "type": "quantitative", "axis": null},
"text": {"field": "text"}
}
},
{
"data": {"values": [{"line": 2, "text": "Citrobacter rodentium."}]},
"mark": {"type": "text", "align": "left", "baseline": "middle", "dx": 427.3, "font": "Roboto", "fontWeight": 300, "fontStyle": "italic", "fontSize": 18, "color": "#333"},
"encoding": {
"x": {"datum": 0, "type": "quantitative", "axis": null},
"y": {"field": "line", "type": "quantitative", "axis": null},
"text": {"field": "text"}
}
},
{
"data": {"values": [{"line": 4, "text": "(B)"}]},
"mark": {"type": "text", "align": "left", "baseline": "middle", "dx": 333, "font": "Roboto", "fontWeight": "bold", "fontSize": 18, "color": "#222"},
"encoding": {
"x": {"datum": 0, "type": "quantitative", "axis": null},
"y": {"field": "line", "type": "quantitative", "axis": null},
"text": {"field": "text"}
}
},
{
"data": {"values": [{"line": 4, "text": "Median pairwise amino acid"}]},
"mark": {"type": "text", "align": "left", "baseline": "middle", "dx": 362.5, "font": "Roboto", "fontWeight": 300, "fontSize": 18, "color": "#333"},
"encoding": {
"x": {"datum": 0, "type": "quantitative", "axis": null},
"y": {"field": "line", "type": "quantitative", "axis": null},
"text": {"field": "text"}
}
},
{
"data": {"values": [{"line": 9, "text": "(C)"}]},
"mark": {"type": "text", "align": "left", "baseline": "middle", "dx": 91.2, "font": "Roboto", "fontWeight": "bold", "fontSize": 18, "color": "#222"},
"encoding": {
"x": {"datum": 0, "type": "quantitative", "axis": null},
"y": {"field": "line", "type": "quantitative", "axis": null},
"text": {"field": "text"}
}
},
{
"data": {"values": [{"line": 9, "text": "Conservation of antisense embedded ORFs (blue), as"}]},
"mark": {"type": "text", "align": "left", "baseline": "middle", "dx": 124.8, "font": "Roboto", "fontWeight": 300, "fontSize": 18, "color": "#333"},
"encoding": {
"x": {"datum": 0, "type": "quantitative", "axis": null},
"y": {"field": "line", "type": "quantitative", "axis": null},
"text": {"field": "text"}
}
}
]
}
],
"config": {
"view": {"stroke": null},
"axis": {"grid": false},
"text": {"font": "DejaVu Sans"}
}
}
